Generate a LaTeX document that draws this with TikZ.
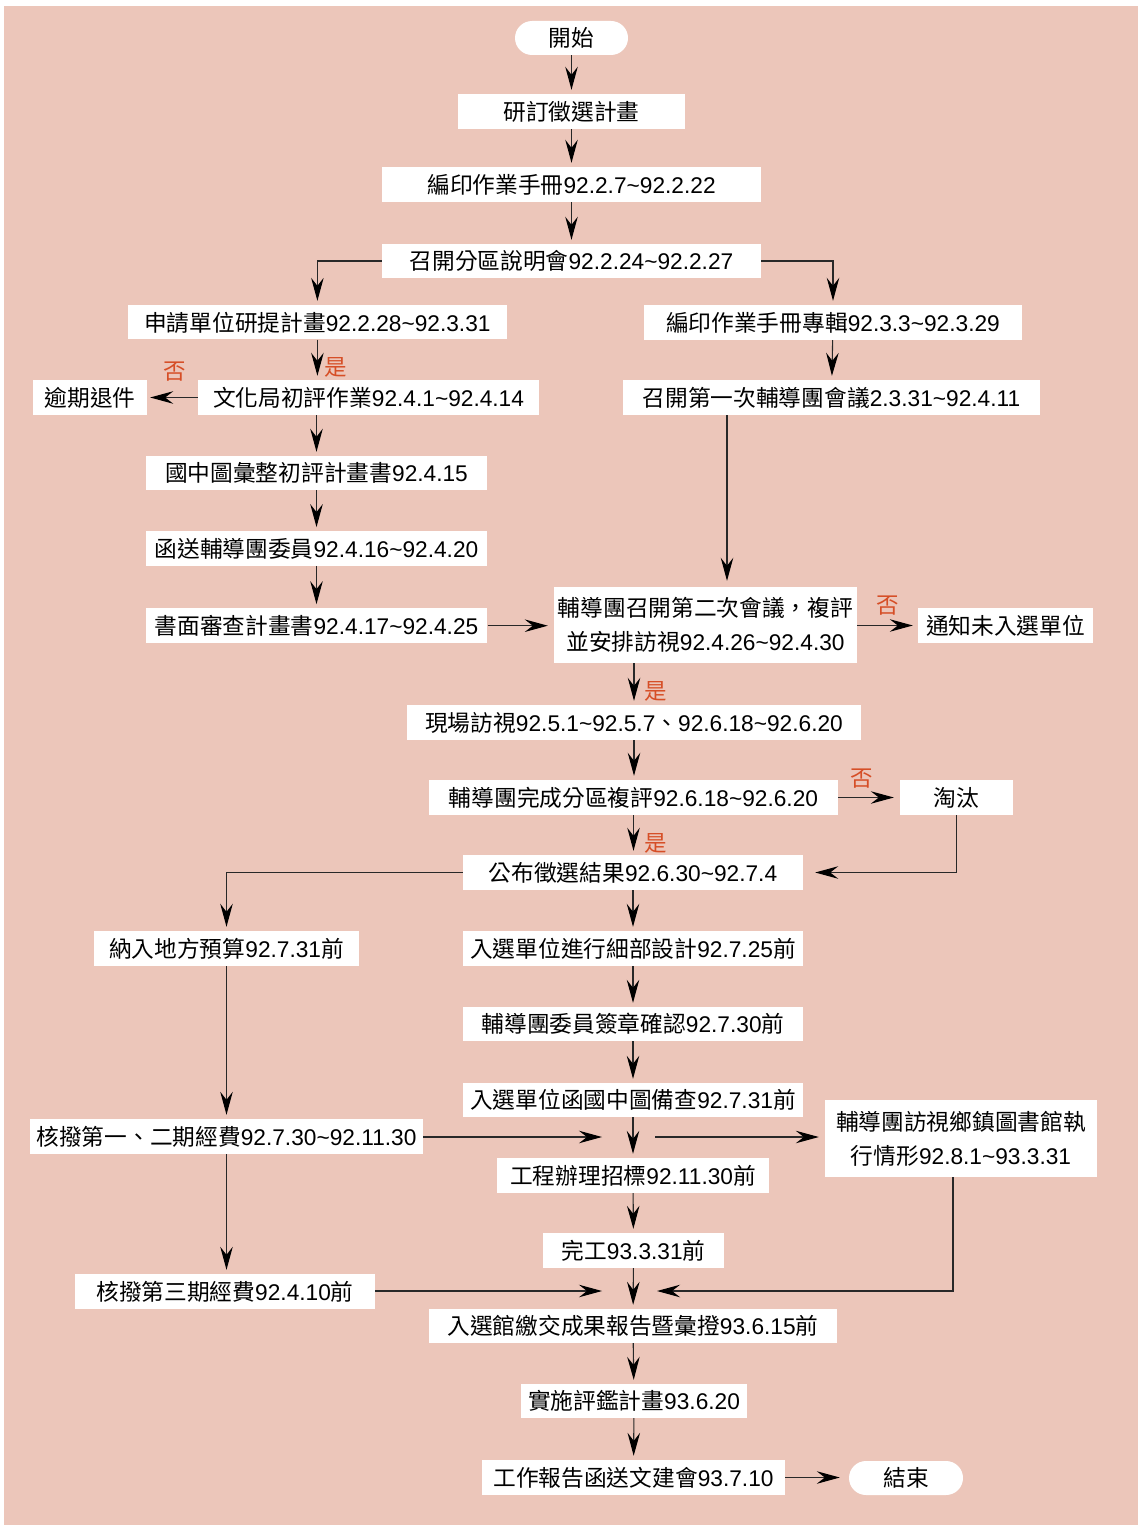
\documentclass[tikz,border=0pt]{standalone}
\usepackage{fontspec}
\setmainfont{Liberation Sans}
\newfontfamily\cjk{Noto Sans CJK TC}
\usetikzlibrary{arrows.meta}
\newcommand\zh[1]{{\cjk #1}}
\newcommand\mytilde{\textasciitilde}
\definecolor{bgc}{RGB}{236,198,186}
\definecolor{lab}{RGB}{214,78,38}
\definecolor{linec}{RGB}{40,40,40}
\tikzset{
  box/.style={fill=white, inner sep=0pt, text height=20.2pt, text depth=2.4pt, font=\fontsize{22.7}{34}\selectfont},
  boxtwo/.style={fill=white, inner sep=0pt, align=center, font=\fontsize{22.7}{34}\selectfont},
  pill/.style={box, rounded corners=17pt},
  lbl/.style={text=lab, inner sep=0pt, text height=18.5pt, text depth=2pt, font=\cjk\fontsize{22.5}{22.5}\selectfont},
  arr/.style={draw=linec, line width=1.1pt, -{Stealth[length=23pt,width=12.5pt,inset=8pt,color=black]}, shorten >=4pt},
}
\begin{document}
\begin{tikzpicture}[x=1pt,y=-1pt]
\useasboundingbox (0,0) rectangle (1138,1525);
\fill[bgc] (3.5,6.5) rectangle (1138,1525);

% nodes
\node[pill, minimum width=113, minimum height=34] (start) at (571.5,38) {\zh{開始}};
\node[box, minimum width=227, minimum height=35] (n1) at (571.5,111.5) {\zh{研訂徵選計畫}};
\node[box, minimum width=379, minimum height=35] (n2) at (571.5,184.5) {\zh{編印作業手冊}92.2.7\mytilde 92.2.22};
\node[box, minimum width=379, minimum height=34] (n3) at (571.5,261) {\zh{召開分區說明會}92.2.24\mytilde 92.2.27};
\node[box, minimum width=378.7, minimum height=34.3] (n4) at (317.4,322.2) {\zh{申請單位研提計畫}92.2.28\mytilde 92.3.31};
\node[box, minimum width=341, minimum height=35] (n5) at (368.5,397.5) {\zh{文化局初評作業}92.4.1\mytilde 92.4.14};
\node[box, minimum width=114, minimum height=35] (n6) at (90,397.5) {\zh{逾期退件}};
\node[box, minimum width=341.6, minimum height=34] (n7) at (316.5,473) {\zh{國中圖彙整初評計畫書}92.4.15};
\node[box, minimum width=341.6, minimum height=34.4] (n8) at (316.5,548.5) {\zh{函送輔導團委員}92.4.16\mytilde 92.4.20};
\node[box, minimum width=341.6, minimum height=34.7] (n9) at (316.5,625.7) {\zh{書面審查計畫書}92.4.17\mytilde 92.4.25};
\node[box, minimum width=378, minimum height=35] (n10) at (833,322.5) {\zh{編印作業手冊專輯}92.3.3\mytilde 92.3.29};
\node[box, minimum width=417, minimum height=35] (n11) at (831.5,397.5) {\zh{召開第一次輔導團會議}2.3.31\mytilde 92.4.11};
\node[boxtwo, minimum width=303, minimum height=76] (n12) at (705.5,625) {\zh{輔導團召開第二次會議，複評}\\\zh{並安排訪視}92.4.26\mytilde 92.4.30};
\node[box, minimum width=175, minimum height=35] (n13) at (1005.5,625.5) {\zh{通知未入選單位}};
\node[box, minimum width=454, minimum height=35] (n14) at (634,722.5) {\zh{現場訪視}92.5.1\mytilde 92.5.7\zh{、}92.6.18\mytilde 92.6.20};
\node[box, minimum width=409, minimum height=35] (n15) at (633.5,797.5) {\zh{輔導團完成分區複評}92.6.18\mytilde 92.6.20};
\node[box, minimum width=113, minimum height=35] (n16) at (956.5,797.5) {\zh{淘汰}};
\node[box, minimum width=340, minimum height=35] (n17) at (633,872.5) {\zh{公布徵選結果}92.6.30\mytilde 92.7.4};
\node[box, minimum width=265, minimum height=35] (n18) at (226.5,948.5) {\zh{納入地方預算}92.7.31\zh{前}};
\node[box, minimum width=340, minimum height=35] (n19) at (633,948.5) {\zh{入選單位進行細部設計}92.7.25\zh{前}};
\node[box, minimum width=340, minimum height=34] (n20) at (633,1024) {\zh{輔導團委員簽章確認}92.7.30\zh{前}};
\node[box, minimum width=340, minimum height=34] (n21) at (633,1100) {\zh{入選單位函國中圖備查}92.7.31\zh{前}};
\node[box, minimum width=393, minimum height=35] (n22) at (226.5,1136.5) {\zh{核撥第一、二期經費}92.7.30\mytilde 92.11.30};
\node[boxtwo, minimum width=272, minimum height=77] (n23) at (961,1138.5) {\zh{輔導團訪視鄉鎮圖書館執}\\\zh{行情形}92.8.1\mytilde 93.3.31};
\node[box, minimum width=272, minimum height=35] (n24) at (633,1175.5) {\zh{工程辦理招標}92.11.30\zh{前}};
\node[box, minimum width=181, minimum height=35] (n25) at (633.5,1250.5) {\zh{完工}93.3.31\zh{前}};
\node[box, minimum width=300, minimum height=35] (n26) at (225,1291.5) {\zh{核撥第三期經費}92.4.10\zh{前}};
\node[box, minimum width=408, minimum height=34] (n27) at (633,1326) {\zh{入選館繳交成果報告暨彙撜}93.6.15\zh{前}};
\node[box, minimum width=226, minimum height=34] (n28) at (634,1401) {\zh{實施評鑑計畫}93.6.20};
\node[box, minimum width=303, minimum height=35] (n29) at (633.5,1477.5) {\zh{工作報告函送文建會}93.7.10};
\node[pill, minimum width=114, minimum height=34] (end) at (906,1478) {\zh{結束}};

% free ends
\coordinate (j1) at (602,1137);
\coordinate (j2) at (655,1137);
\coordinate (j3) at (602,1291);
\coordinate (j4) at (657,1291);

% labels
\node[lbl] (l1) at (175,371) {否};
\node[lbl] (l2) at (336,367) {是};
\node[lbl] (l3) at (888,605) {否};
\node[lbl] (l4) at (655.5,691) {是};
\node[lbl] (l5) at (861.5,778) {否};
\node[lbl] (l6) at (655.5,843) {是};

% connectors
\draw[arr] (start) -- (n1);
\draw[arr] (n1) -- (n2);
\draw[arr] (n2) -- (n3);
\draw[arr] (n3.west) -| (n4.north);
\draw[arr] (n3.east) -| (n10.north);
\draw[arr] (n4.south) -- (n4.south |- n5.north);
\draw[arr, shorten >=3pt] (n5.west) -- (n6.east);
\draw[arr] (n7.north |- n5.south) -- (n7.north);
\draw[arr] (n7) -- (n8);
\draw[arr] (n8) -- (n9);
\draw[arr, shorten >=6pt] (n9.east) -- (n12.west |- n9.east);
\draw[arr] (n10) -- (n11);
\draw[arr, shorten >=6pt] ([xshift=-104.5pt]n11.south) -- ([xshift=21.5pt]n12.north);
\draw[arr, shorten >=5pt] (n12.east |- n13.west) -- (n13.west);
\draw[arr] ([xshift=-71.5pt]n12.south) -- (n14.north);
\draw[arr] (n14.south) -- (n14.south |- n15.north);
\draw[arr, shorten >=6pt] (n15.east) -- (n16.west);
\draw[arr] (n15.south) -- (n15.south |- n17.north);
\draw[arr, shorten >=12pt] (n16.south) |- (n17.east);
\draw[arr] (n17.west) -| (n18.north);
\draw[arr] (n17) -- (n19);
\draw[arr] (n19) -- (n20);
\draw[arr] (n20) -- (n21);
\draw[arr] (n21) -- (n24);
\draw[arr] (n18.south) -- (n18.south |- n22.north);
\draw[arr] (n22.south) -- (n22.south |- n26.north);
\draw[arr, shorten >=0pt] (n22.east |- j1) -- (j1);
\draw[arr, shorten >=6pt] (j2) -- (n23.west |- j2);
\draw[arr] (n24) -- (n25);
\draw[arr] (n25) -- (n27);
\draw[arr, shorten >=0pt] (n26.east |- j3) -- (j3);
\draw[arr, shorten >=0pt] ([xshift=-8pt]n23.south) |- (j4);
\draw[arr] (n27) -- (n28);
\draw[arr] (n28) -- (n29);
\draw[arr, shorten >=9pt] (n29.east) -- (end.west |- n29.east);
\end{tikzpicture}
\end{document}
